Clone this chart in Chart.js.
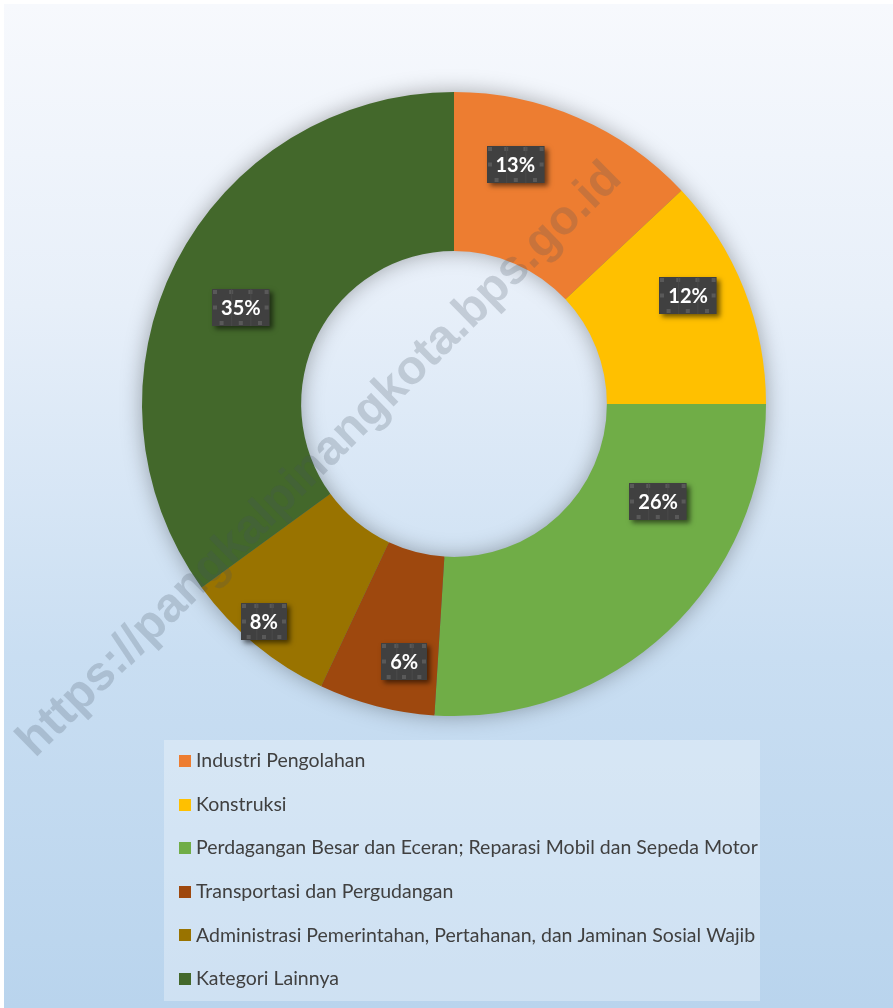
<!DOCTYPE html>
<html>
<head>
<meta charset="utf-8">
<script src="https://cdn.jsdelivr.net/npm/chart.js@4/dist/chart.umd.min.js"></script>
<style>
  body { margin: 0; background: #fff; }
  canvas { display: block; }
</style>
</head>
<body>
<canvas id="myChart" width="893" height="1008"></canvas>
<script>
// shares of each sector (percent)
var categories = [
  'Industri Pengolahan',
  'Konstruksi',
  'Perdagangan Besar dan Eceran; Reparasi Mobil dan Sepeda Motor',
  'Transportasi dan Pergudangan',
  'Administrasi Pemerintahan, Pertahanan, dan Jaminan Sosial Wajib',
  'Kategori Lainnya'
];
var shares = [13, 12, 26, 6, 8, 35];
var colours = ['#ED7D31', '#FFC000', '#70AD47', '#9E480E', '#997300', '#43682B'];
var watermark = 'https://pangkalpinangkota.bps.go.id';

// background gradient + ring shadow
var backdrop = {
  id: 'backdrop',
  beforeDraw: function(chart) {
    var ctx = chart.ctx;
    ctx.save();
    ctx.fillStyle = '#ffffff';
    ctx.fillRect(0, 0, chart.width, chart.height);
    var g = ctx.createLinearGradient(0, 4, 0, chart.height);
    g.addColorStop(0, '#f7f9fd');
    g.addColorStop(0.3, '#e7eff9');
    g.addColorStop(0.65, '#c9def2');
    g.addColorStop(1, '#b9d4ed');
    ctx.fillStyle = g;
    ctx.fillRect(4, 4, chart.width - 4, chart.height - 4);
    ctx.restore();
  },
  beforeDatasetsDraw: function(chart) {
    var a = chart.getDatasetMeta(0).data[0];
    if (!a) return;
    var ctx = chart.ctx;
    ctx.save();
    ctx.shadowColor = 'rgba(0,0,0,0.35)';
    ctx.shadowBlur = 22;
    ctx.fillStyle = '#5a6e80';
    ctx.beginPath();
    ctx.arc(a.x, a.y, a.outerRadius - 1, 0, Math.PI * 2);
    ctx.arc(a.x, a.y, a.innerRadius + 1, 0, Math.PI * 2, true);
    ctx.fill();
    ctx.restore();
  }
};

// dark boxed percentage labels
var boxLabels = {
  id: 'boxLabels',
  afterDatasetsDraw: function(chart, args, opts) {
    var ctx = chart.ctx;
    var meta = chart.getDatasetMeta(0);
    ctx.save();
    ctx.font = 'bold 20px Lato';
    ctx.textAlign = 'center';
    ctx.textBaseline = 'middle';
    meta.data.forEach(function(arc, i) {
      var p = arc.getCenterPoint();
      var off = opts.nudge[i] || [0, 0];
      var cx = p.x + off[0], cy = p.y + off[1];
      var txt = shares[i] + '%';
      var w = ctx.measureText(txt).width + 18, h = 37;
      var x = Math.round(cx - w / 2), y = Math.round(cy - h / 2);
      ctx.save();
      ctx.shadowColor = 'rgba(0,0,0,0.55)';
      ctx.shadowBlur = 5;
      ctx.shadowOffsetX = 3;
      ctx.shadowOffsetY = 3;
      ctx.fillStyle = '#404040';
      ctx.fillRect(x, y, w, h);
      ctx.restore();
      // little pattern squares
      ctx.fillStyle = '#595959';
      var xs = [1, w / 3 - 2, 2 * w / 3 - 2, w - 5];
      xs.forEach(function(sx) { ctx.fillRect(x + sx, y + 1, 4, 4); });
      ctx.fillRect(x + 1, y + h / 2 - 2, 4, 4);
      ctx.fillRect(x + w - 5, y + h / 2 - 2, 4, 4);
      ctx.fillRect(x + w / 6 - 2, y + h - 5, 4, 4);
      ctx.fillRect(x + w / 2 - 2, y + h - 5, 4, 4);
      ctx.fillRect(x + 5 * w / 6 - 2, y + h - 5, 4, 4);
      ctx.fillStyle = '#4a4a4a';
      ctx.fillRect(x + w / 3, y, 1, h);
      ctx.fillRect(x + 2 * w / 3, y, 1, h);
      ctx.fillStyle = '#ffffff';
      ctx.fillText(txt, cx, cy + 1);
    });
    ctx.restore();
  }
};

// legend panel and watermark
var overlay = {
  id: 'overlay',
  afterDraw: function(chart) {
    var ctx = chart.ctx;
    ctx.save();
    ctx.fillStyle = 'rgba(255,255,255,0.3)';
    ctx.fillRect(164, 740, 596, 261);
    ctx.font = '19.5px Lato';
    ctx.textBaseline = 'middle';
    ctx.textAlign = 'left';
    for (var i = 0; i < categories.length; i++) {
      var yy = 761 + i * 43.6;
      ctx.fillStyle = colours[i];
      ctx.fillRect(179, Math.round(yy - 6), 12, 12);
      ctx.fillStyle = '#404040';
      ctx.fillText(categories[i], 196, yy);
    }
    // watermark
    ctx.translate(320, 460);
    ctx.rotate(-44.5 * Math.PI / 180);
    ctx.font = 'bold 40px "Liberation Sans"';
    var tw = ctx.measureText(watermark).width;
    var s = 825 / tw;
    ctx.scale(s, s);
    ctx.textAlign = 'center';
    ctx.fillStyle = 'rgba(70,80,95,0.22)';
    ctx.fillText(watermark, 0, 0);
    ctx.restore();
  }
};

var ctx = document.getElementById('myChart').getContext('2d');
var myChart = new Chart(ctx, {
  type: 'doughnut',
  data: {
    labels: categories,
    datasets: [{
      data: shares,
      backgroundColor: colours,
      borderWidth: 0
    }]
  },
  options: {
    responsive: false,
    animation: false,
    cutout: '49%',
    layout: { padding: { left: 142, right: 127, top: 92, bottom: 292 } },
    plugins: {
      legend: { display: false },
      tooltip: { enabled: false },
      boxLabels: {
        nudge: [[-31, -26], [18, -23], [45, -72], [8, 32], [-42, 38], [-6, 9]]
      }
    }
  },
  plugins: [backdrop, boxLabels, overlay]
});
</script>
</body>
</html>
